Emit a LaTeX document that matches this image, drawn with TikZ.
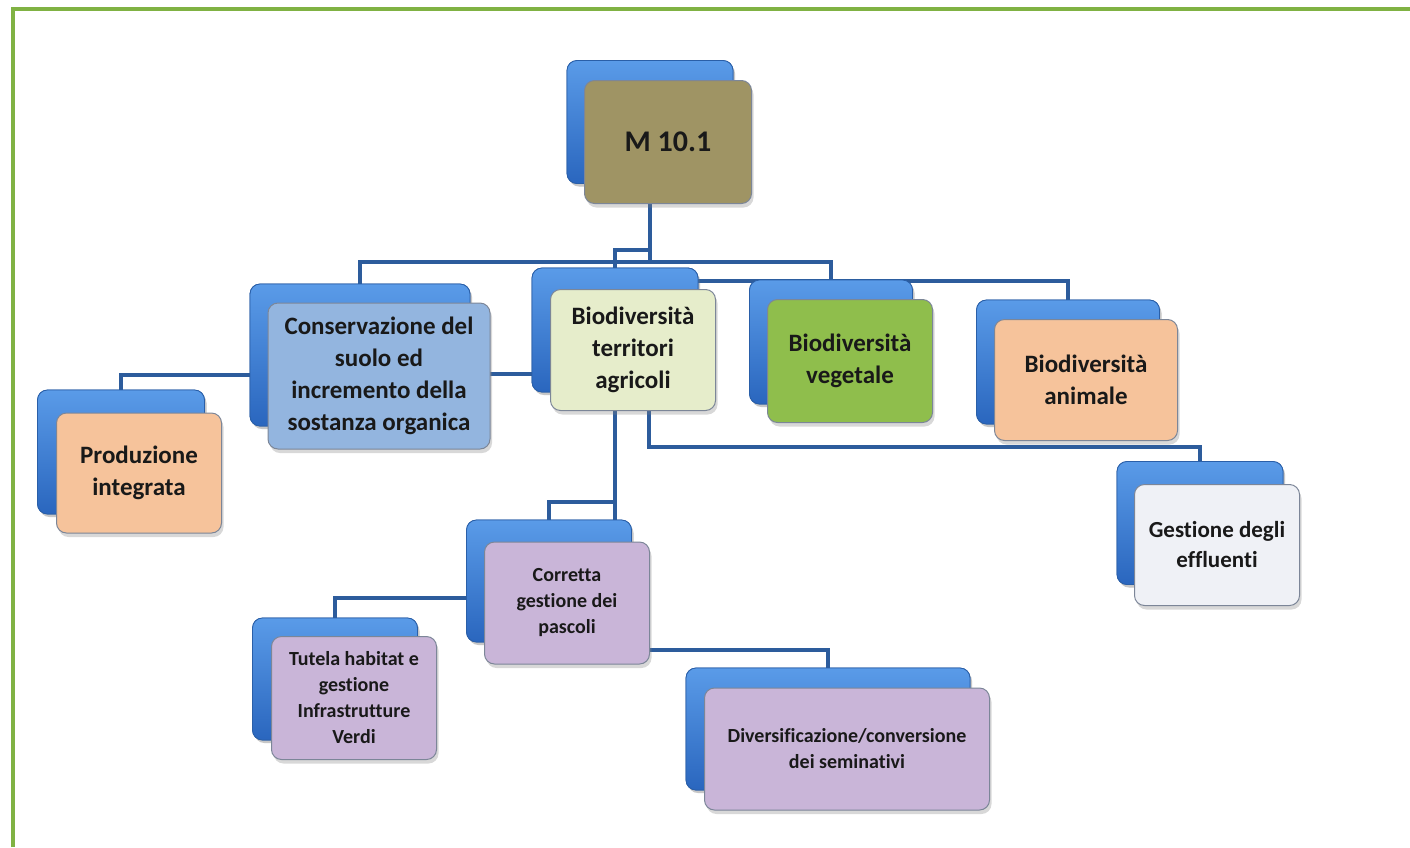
\documentclass[tikz,border=0pt]{standalone}
\usepackage{fontspec}
\setmainfont{Carlito}[Ligatures=NoCommon]
\usetikzlibrary{shadows,calc}
\definecolor{frame}{HTML}{80B243}
\definecolor{conn}{HTML}{2D5C9C}
\definecolor{backtop}{HTML}{5A9BE8}
\definecolor{backbot}{HTML}{2A66BE}
\definecolor{backedge}{HTML}{2A5FA8}
\definecolor{olivec}{HTML}{9F9464}
\definecolor{consc}{HTML}{93B5DF}
\definecolor{terrc}{HTML}{E6EDCB}
\definecolor{vegc}{HTML}{8FBE4C}
\definecolor{peachc}{HTML}{F6C39B}
\definecolor{gestc}{HTML}{EFF1F6}
\definecolor{lavc}{HTML}{C9B5D8}
\definecolor{frontedge}{HTML}{7C8698}
\tikzset{
  backbox/.style={rectangle, rounded corners=10pt, top color=backtop, bottom color=backbot,
    draw=backedge, line width=0.8pt, drop shadow={shadow xshift=2pt, shadow yshift=-3pt, opacity=0.25}},
  frontbox/.style={rectangle, rounded corners=10pt, draw=frontedge, line width=1pt,
    align=center, text=black!90, font=\bfseries,
    drop shadow={shadow xshift=2pt, shadow yshift=-4pt, opacity=0.3}},
  big/.style={font=\bfseries\fontsize{25}{32}\selectfont},
  mid/.style={font=\bfseries\fontsize{23}{30}\selectfont},
  small/.style={font=\bfseries\fontsize{20}{26}\selectfont},
  connector/.style={draw=conn, line width=3.5pt, line join=miter},
}
\begin{document}
\begin{tikzpicture}[x=1pt,y=-1pt]
\useasboundingbox (0,0) rectangle (1410,847);
\fill[white] (0,0) rectangle (1410,847);
% frame
\draw[frame, line width=4.5pt] (13,847) -- (13,9) -- (1410,9);

% --- back boxes (named, for the connectors) ---
\path
  node[backbox, minimum width=166pt, minimum height=123pt] (Mb) at (650,122) {}
  node[backbox, minimum width=220pt, minimum height=142pt] (Cb) at (360,355) {}
  node[backbox, minimum width=167pt, minimum height=124pt] (Pb) at (121,452) {}
  node[backbox, minimum width=166pt, minimum height=124pt] (Tb) at (615,330) {}
  node[backbox, minimum width=163pt, minimum height=124pt] (Vb) at (831,342) {}
  node[backbox, minimum width=183pt, minimum height=124pt] (Ab) at (1068,362) {}
  node[backbox, minimum width=166pt, minimum height=123pt] (Gb) at (1200,523) {}
  node[backbox, minimum width=165pt, minimum height=122pt] (Kb) at (549,581) {}
  node[backbox, minimum width=165pt, minimum height=122pt] (Ub) at (335,679) {}
  node[backbox, minimum width=284pt, minimum height=122pt] (Db) at (828,729) {};

% --- connectors (behind the front boxes) ---
\begin{scope}[connector]
  \draw (Mb.south) -- (Mb.south |- 0,262);
  \draw (Cb.north) |- (0,262 -| Vb.north) -- (Vb.north);
  \draw (Mb.south |- 0,250) -| (Tb.north);
  \draw (Tb.east |- 0,281) -| (Ab.north);
  \draw (Cb.west |- 0,375) -| (Pb.north);
  \draw (Cb.east |- 0,374) -- (Tb.west |- 0,374);
  \draw (Tb.south) -- (Tb.south |- Kb.north);
  \draw (Tb.south |- 0,502) -| (Kb.north);
  \draw ($(Tb.south)+(34,0)$) |- (0,447 -| Gb.north) -- (Gb.north);
  \draw (Kb.west |- 0,598) -| (Ub.north);
  \draw (Kb.east |- 0,650) -| (Db.north);
\end{scope}

% --- redraw back boxes over connectors ---
\foreach \n/\x/\y/\w/\h in {Mb/650/122/166/123, Cb/360/355/220/142, Pb/121/452/167/124,
  Tb/615/330/166/124, Vb/831/342/163/124, Ab/1068/362/183/124, Gb/1200/523/166/123,
  Kb/549/581/165/122, Ub/335/679/165/122, Db/828/729/284/122}
  \node[backbox, minimum width=\w pt, minimum height=\h pt] at (\x,\y) {};

% --- front boxes ---
\node[frontbox, fill=olivec, minimum width=167pt, minimum height=123pt,
  font=\bfseries\fontsize{30}{36}\selectfont] (Mf) at (668,142) {M 10.1};
\node[frontbox, fill=consc, minimum width=222pt, minimum height=146pt, big] (Cf) at (379,376)
  {Conservazione del\\suolo ed\\incremento della\\sostanza organica};
\node[frontbox, fill=peachc, minimum width=165pt, minimum height=120pt, big] (Pf) at (139,473)
  {Produzione\\integrata};
\node[frontbox, fill=terrc, minimum width=165pt, minimum height=121pt, big] (Tf) at (633,350)
  {Biodiversità\\territori\\agricoli};
\node[frontbox, fill=vegc, minimum width=165pt, minimum height=123pt, big] (Vf) at (850,361)
  {Biodiversità\\vegetale};
\node[frontbox, fill=peachc, minimum width=183pt, minimum height=121pt, big] (Af) at (1086,380)
  {Biodiversità\\animale};
\node[frontbox, fill=gestc, minimum width=165pt, minimum height=121pt, mid] (Gf) at (1217,545)
  {Gestione degli\\effluenti};
\node[frontbox, fill=lavc, minimum width=165pt, minimum height=122pt, small] (Kf) at (567,603)
  {Corretta\\gestione dei\\pascoli};
\node[frontbox, fill=lavc, minimum width=165pt, minimum height=123pt, small] (Uf) at (354,698)
  {Tutela habitat e\\gestione\\Infrastrutture\\Verdi};
\node[frontbox, fill=lavc, minimum width=285pt, minimum height=122pt, small] (Df) at (847,749)
  {Diversificazione/conversione\\dei seminativi};
\end{tikzpicture}
\end{document}
